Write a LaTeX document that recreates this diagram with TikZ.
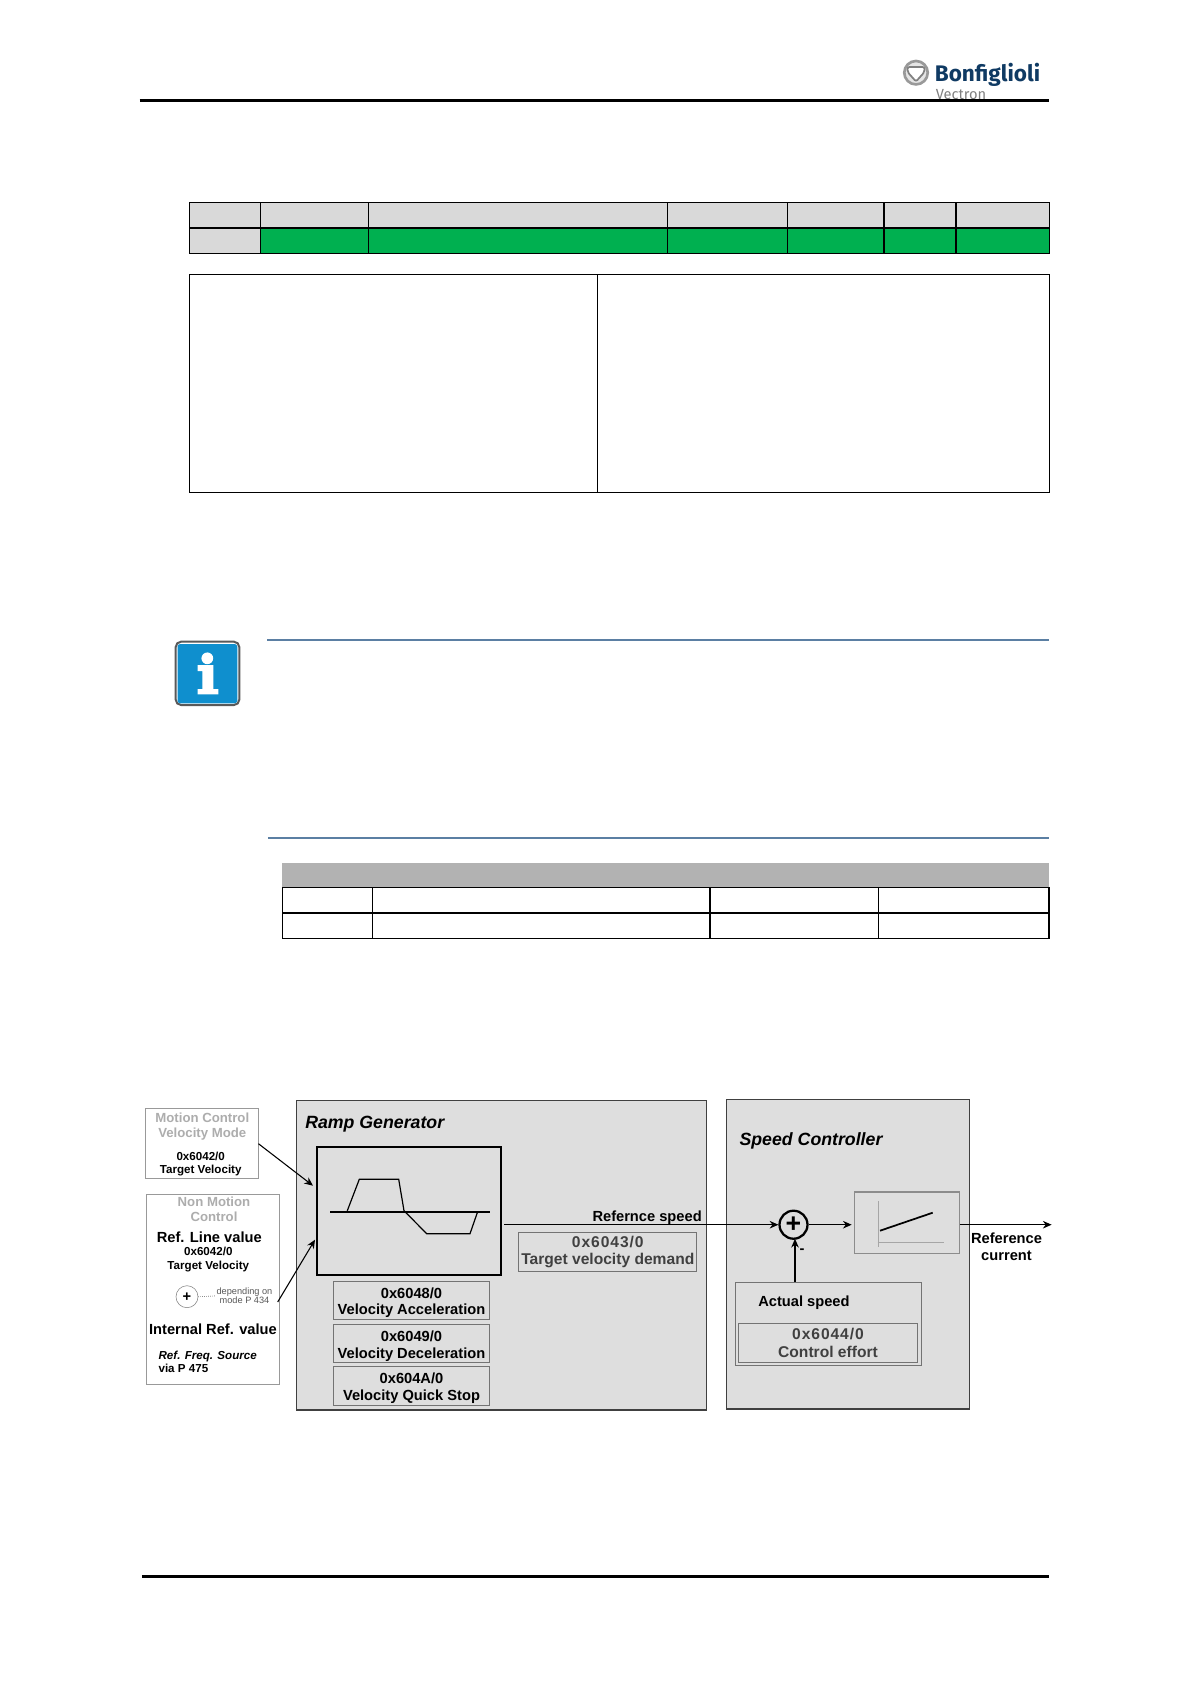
\documentclass[tikz,border=0pt]{standalone}
\usepackage{fontspec}
\setmainfont{Liberation Sans}
\newfontfamily\logofont{Fira Sans}
\usepackage{tikz}
\usetikzlibrary{positioning,arrows.meta,calc}
\definecolor{panelgray}{HTML}{DEDEDE}
\definecolor{cellgray}{HTML}{D9D9D9}
\definecolor{headgray}{HTML}{B2B2B2}
\definecolor{cellgreen}{HTML}{00B050}
\definecolor{rulenavy}{HTML}{5B7FA3}
\definecolor{logonavy}{HTML}{0F3A63}
\definecolor{infoblue}{HTML}{0F8FCE}
\tikzset{
  figpanel/.style={draw=black!75, line width=1pt, fill=panelgray, inner sep=0pt},
  figreg/.style={draw=black!55, line width=0.7pt, fill=panelgray, align=center, inner sep=0pt,
    font=\fontsize{11}{12.4}\selectfont\bfseries},
  figdark/.style={figreg, text=black!75, font=\fontsize{11.7}{13.2}\selectfont\bfseries},
  figsource/.style={draw=black!40, line width=0.7pt, fill=white, inner sep=0pt},
  figarrow/.style={-{Stealth[length=2.3mm,width=2mm]}, line width=0.8pt},
  figlabel/.style={font=\fontsize{11}{12.4}\selectfont\bfseries, align=center, inner sep=0pt},
  figsmall/.style={font=\fontsize{8.7}{10}\selectfont\bfseries, align=center, inner sep=0pt},
  figtitle/.style={font=\fontsize{13.3}{15}\selectfont\bfseries\itshape, inner sep=0pt},
  figgray/.style={font=\fontsize{9.9}{11.2}\selectfont\bfseries, text=black!32, align=center, inner sep=0pt},
  figgrid/.style={draw=black, line width=1.1pt},
}
\begin{document}
\begin{tikzpicture}[x=0.75pt,y=-0.75pt]
  \useasboundingbox (0,0) rectangle (1191,1684);
  % page head and foot
  \node[text=black!50, font=\logofont\fontsize{11}{12}\selectfont, inner sep=0pt] (vectron) at (961,95) {Vectron};
  \draw[line width=2.2pt] (139.6,100.7) -- (1049.3,100.7);
  \draw[line width=2.2pt] (141.8,1576.6) -- (1049.3,1576.6);
  \draw[black!40, line width=2pt, fill=black!10] (916,72.7) circle[radius=8.8pt];
  \draw[black!50, line width=1.3pt, fill=white, rounded corners=1.5pt] (907.5,67) -- (924.5,67) -- (924.5,72) -- (916,81.5) -- (907.5,72) -- cycle;
  \node[text=logonavy, font=\logofont\fontsize{16.9}{18}\selectfont\bfseries, inner sep=0pt] (brand) at (987.5,74.5) {Bonfiglioli};
  % first table
  \fill[cellgray] (189.5,202.3) rectangle (1049.4,253.3);
  \fill[cellgreen] (260.7,227.7) rectangle (1049.4,253.3);
  \draw[line width=0.9pt] (189.5,202.3) rectangle (1049.4,253.3);
  \draw[line width=1.5pt] (189.5,227.7) -- (1049.4,227.7);
  \foreach \colx in {260.7,368.6,667.7,787.7,884.1,955.9}
    \draw[figgrid] (\colx,202.3) -- (\colx,253.3);
  \draw[line width=0.8pt] (189.5,274.3) rectangle (1049.4,492.7) (597.7,274.3) -- (597.7,492.7);
  % note
  \draw[rulenavy, line width=1pt] (267.4,640) -- (1049,640);
  \draw[rulenavy, line width=1.3pt] (267.8,837.7) -- (1049,837.7);
  \draw[black!65, line width=1.5pt, fill=white, rounded corners=4pt] (175.7,641.7) rectangle (239.3,705);
  \fill[infoblue, rounded corners=2pt] (177.5,644) rectangle (237.3,703.3);
  \fill[white] (207.3,658.3) circle[radius=4.4pt];
  \fill[white] (197.7,665) -- (213.3,665) -- (213.3,689) -- (218.3,689) -- (218.3,694.3) -- (197.7,694.3)
    -- (197.7,689) -- (202.3,689) -- (202.3,671) -- (197.7,671) -- cycle;
  % second table
  \fill[headgray] (282.2,862.7) rectangle (1049,886.7);
  \draw[line width=0.9pt] (282.2,887.3) rectangle (1049,938.3);
  \draw[line width=1.5pt] (282.2,912.7) -- (1049,912.7);
  \foreach \colx in {372.7,710,878.6}
    \draw[figgrid] (\colx,887.3) -- (\colx,938.3);
  % sources
  \node[figsource, minimum width=84.2pt, minimum height=52.5pt] (motion) at (201.85,1143.7) {};
  \node[figgray] (motionname) at (202.3,1126.3) {Motion Control\\Velocity Mode};
  \node[figsmall] (motionobj) at (200.7,1163.7) {0x6042/0\\Target Velocity};
  \node[figsource, minimum width=99.5pt, minimum height=143pt] (nonmotion) at (212.65,1289.35) {};
  \node[figgray] (nonname) at (214,1208.8) {Non Motion\\Control};
  \node[figlabel] (lineval) at (209.3,1237.7) {Ref. Line value};
  \node[figsmall] (nonobj) at (208.3,1259.4) {0x6042/0\\Target Velocity};
  \node[draw=black!50, line width=0.4pt, circle, minimum size=16.5pt, inner sep=0pt, font=\fontsize{11}{12}\selectfont\bfseries] (mix) at (187,1296.7) {+};
  \node[font=\fontsize{6.9}{6.8}\selectfont, text=black!65, align=center, inner sep=0pt] (mixnote) at (244.5,1296) {depending on\\mode P 434};
  \draw[densely dotted, black!70, line width=0.5pt] (mix.east) -- ([xshift=-1pt]mixnote.west);
  \node[figlabel] (intval) at (213,1329.7) {Internal Ref. value};
  \node[figsmall, align=left, anchor=north west] (freq) at (158.3,1350.5) {\itshape Ref. Freq. Source\\via P 475};
  % ramp generator
  \node[figpanel, minimum width=307.1pt, minimum height=232pt] (ramp) at (501.45,1255.35) {};
  \node[figtitle, anchor=west] (ramptitle) at (305,1124) {Ramp Generator};
  \node[draw=black, line width=2.2pt, fill=panelgray, minimum width=138pt, minimum height=96pt, inner sep=0pt] (curve) at (409,1211) {};
  \draw[line width=0.9pt] (330,1212) -- (490,1212);
  \draw[line width=0.9pt] (347.3,1210.7) -- (359.3,1179.3) -- (398.7,1179.3) -- (404,1210.7) -- (426.7,1233.7) -- (470,1233.7) -- (477.3,1212.7);
  \node[figreg, minimum width=117.3pt, minimum height=29pt, text depth=0pt] (accel) at (411.5,1300.35) {\raisebox{-1.5pt}{0x6048/0}\\\raisebox{-1.5pt}{Velocity Acceleration}};
  \node[figreg, minimum width=117.3pt, minimum height=28.8pt, text depth=0pt] (decel) at (411.5,1343.5) {\raisebox{-1.5pt}{0x6049/0}\\\raisebox{-1.5pt}{Velocity Deceleration}};
  \node[figreg, minimum width=117.3pt, minimum height=29pt, text depth=0pt] (quick) at (411.5,1385.65) {\raisebox{-1.5pt}{0x604A/0}\\\raisebox{-1.5pt}{Velocity Quick Stop}};
  \node[figdark, minimum width=133.35pt, minimum height=29pt] (demand) at (607.8,1252) {{\addfontfeatures{LetterSpace=6}0x6043/0}\\Target velocity demand};
  % speed controller
  \node[figpanel, minimum width=182.5pt, minimum height=232pt] (speed) at (847.85,1254.35) {};
  \node[figtitle, anchor=west] (speedtitle) at (739.3,1141.3) {Speed Controller};
  \node[figlabel, anchor=east] (refspeed) at (702,1217.7) {Refernce speed};
  \node[draw=black!45, line width=0.8pt, fill=panelgray, minimum width=78.3pt, minimum height=46.3pt, inner sep=0pt] (block) at (907.1,1222.85) {};
  \draw[black!35, line width=0.5pt] (878.5,1201) -- (878.5,1247.3) (877.5,1242) -- (944.4,1242);
  \draw[line width=1.3pt] (880,1230.7) -- (932.7,1212.7);
  \node[draw=black, line width=1.7pt, circle, fill=panelgray, minimum size=21pt, inner sep=0pt, font=\fontsize{20}{20}\selectfont\bfseries] (sum) at (793.5,1224.7) {+};
  \node[figlabel] (minus) at (802,1250.7) {-};
  \node[draw=black!55, line width=0.7pt, fill=panelgray, minimum width=139.9pt, minimum height=62pt, inner sep=0pt] (actual) at (828.55,1323.65) {};
  \node[figlabel, anchor=west] (actualname) at (758,1303) {Actual speed};
  \node[figdark, minimum width=134.25pt, minimum height=29.25pt] (effort) at (828,1343.2) {{\addfontfeatures{LetterSpace=6}0x6044/0}\\Control effort};
  \node[figlabel] (refcurrent) at (1006.5,1246.5) {Reference\\current};
  % connectors
  \coordinate (curvein1) at (313,1185.7);
  \coordinate (curvein2) at (315,1239.7);
  \coordinate (nonout) at (277.7,1302);
  \coordinate (speedout) at (504.4,1224.7);
  \coordinate (currentout) at (1051.6,1224.7);
  \coordinate (sumin) at (795,1238.8);
  \draw[figarrow] (motion.east) -- (curvein1);
  \draw[figarrow] (nonout) -- (curvein2);
  \draw[figarrow] (speedout) -- (sum.west);
  \draw[figarrow, shorten >=2pt] (sum.east) -- (block.west |- sum.east);
  \draw[figarrow] (block.east |- sum.east) -- (currentout);
  \draw[figarrow] (actual.north -| sumin) -- (sumin);
\end{tikzpicture}
\end{document}
